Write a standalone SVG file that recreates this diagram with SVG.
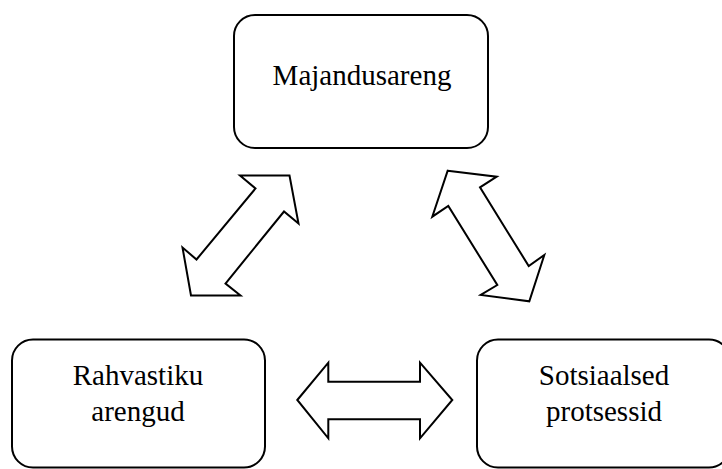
<svg xmlns="http://www.w3.org/2000/svg" width="722" height="469" viewBox="0 0 722 469">
<style>
.box{fill:#fff;stroke:#000;stroke-width:2}
.arr{fill:#fff;stroke:#000;stroke-width:2;stroke-linejoin:miter}
.t{font-family:"Liberation Serif","Times New Roman",serif;font-size:29px;fill:#000;text-anchor:middle}
</style>
<rect width="722" height="469" fill="#fff"/>
<g id="connectors">
<polygon class="arr" points="289.5,175.5 240,175.5 255.5,188.5 196.5,259.5 182.5,247.5 191,295.5 240.5,295.5 225.5,283.5 284,211.5 298.5,223.5"/>
<polygon class="arr" points="447.7,170.7 496.7,176.7 480,187.3 528.7,266 544.3,255 529.3,301.3 480.7,295 497.3,285 448.3,206 432.3,216.7"/>
<polygon class="arr" points="297.3,400 328.3,362.7 328.3,381.7 420,381.7 420,362.7 452.3,400 420,438.3 420,419.3 328.3,419.3 328.3,438.3"/>
</g>
<g id="node-majandusareng">
<rect class="box" x="234" y="15" width="254" height="133" rx="21" ry="21"/>
<text class="t" x="362" y="85">Majandusareng</text>
</g>
<g id="node-rahvastiku">
<rect class="box" x="12" y="339.5" width="253" height="128" rx="21" ry="21"/>
<text class="t" x="138" y="385">Rahvastiku</text>
<text class="t" x="138" y="420.5">arengud</text>
</g>
<g id="node-sotsiaalsed">
<rect class="box" x="477" y="339.5" width="253" height="128" rx="21" ry="21"/>
<text class="t" x="604" y="385">Sotsiaalsed</text>
<text class="t" x="604" y="420.5">protsessid</text>
</g>
</svg>
